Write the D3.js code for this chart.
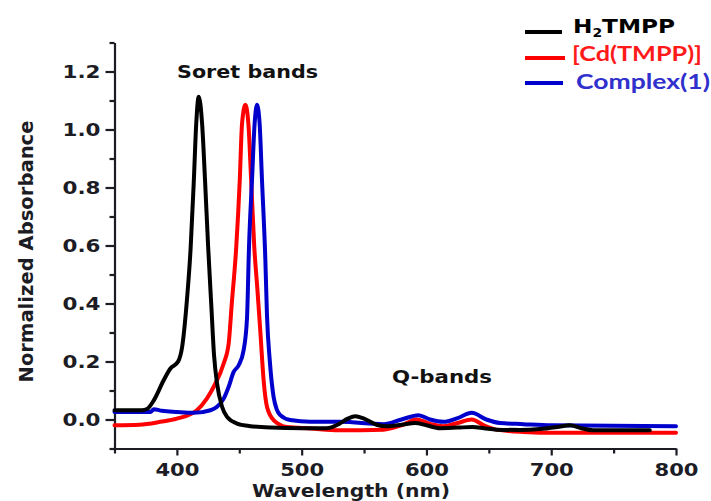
<!DOCTYPE html>
<html><head><meta charset="utf-8">
<script src="https://cdn.jsdelivr.net/npm/d3@7/dist/d3.min.js"></script>
<style>body{margin:0;background:#fff;}svg{display:block;}</style>
</head><body>
<script>
// ---- data ----
const seriesNames = ["H2TMPP", "[Cd(TMPP)]", "Complex(1)"];
const seriesColors = ["#000000", "#ff0000", "#0000cc"];

const h2tmppNm = [350,372,376,381.5,389.5,394.8,401,404.2,408,411,413.6,415.5,417.5,420.2,422.5,425,427.5,429.8,432.2,436.2,440.2,448.2,458.9,474.9,500,520,530,537,543,550,560,568,580,591,600,611,625,637,646,656,675,691,705,715,724,733.5,750,779];
const h2tmppAbs = [0.032,0.032,0.036,0.066,0.136,0.176,0.2,0.25,0.41,0.59,0.826,1.02,1.113,1.02,0.83,0.6,0.40,0.22,0.124,0.044,0.009,-0.014,-0.023,-0.028,-0.03,-0.03,-0.015,0.003,0.011,0.003,-0.018,-0.023,-0.018,-0.012,-0.02,-0.03,-0.028,-0.026,-0.03,-0.035,-0.036,-0.033,-0.026,-0.02,-0.03,-0.037,-0.037,-0.037];

const cdNm = [350,370,386.8,400,416,424,429.5,437.5,441.5,444,447.5,450.4,452.2,454.9,457.3,459.5,462,464.5,466.8,469.5,472.2,477.5,488.3,507,530,565.6,580,592.2,603,613.6,625,636.3,646,656,677.7,704.5,800];
const cdAbs = [-0.02,-0.018,-0.008,0.003,0.032,0.072,0.113,0.193,0.262,0.40,0.59,0.826,1.02,1.085,1.02,0.826,0.596,0.45,0.308,0.136,0.044,-0.002,-0.026,-0.031,-0.037,-0.035,-0.02,0.0,-0.015,-0.023,-0.012,0.0,-0.02,-0.035,-0.043,-0.046,-0.046];

const cpxNm = [350,378.8,381.5,388,400,413.5,426.9,432.2,437.5,441.5,445.5,449.5,453.5,456.2,457.8,460.2,462.3,464.2,466.3,468.2,470.9,472.2,474.5,477.5,480,482.9,490.9,507,531,565.6,580,593.6,603,613.6,625,636.3,648,659,677.7,700,800];
const cpxAbs = [0.026,0.026,0.035,0.03,0.026,0.023,0.032,0.044,0.072,0.113,0.164,0.187,0.239,0.35,0.596,0.826,1.02,1.085,1.02,0.826,0.55,0.36,0.2,0.078,0.035,0.015,-0.002,-0.008,-0.008,-0.016,0.0,0.015,0.0,-0.008,0.005,0.023,0.0,-0.012,-0.016,-0.02,-0.023];

const xMajorTicks = [400,500,600,700,800];
const xMinorTicks = [350,450,550,650,750];
const yMajorTicks = [0.0,0.2,0.4,0.6,0.8,1.0,1.2];
const yMinorTicks = [-0.1,0.1,0.3,0.5,0.7,0.9,1.1,1.3];
const xTitle = "Wavelength (nm)";
const yTitle = "Normalized Absorbance";
const annotations = ["Soret bands", "Q-bands"];

// ---- drawing ----
const W = 711, H = 501;
const svg = d3.select("body").append("svg").attr("width", W).attr("height", H);
const x = d3.scaleLinear().domain([350, 800]).range([114.5, 676]);
const y = d3.scaleLinear().domain([-0.1, 1.3]).range([448.5, 42.5]);
const axisColor = "#1c1c24";
const FONT = "'DejaVu Sans', Verdana, sans-serif";

// X axis
const gx = svg.append("g").attr("transform", `translate(0,${y(-0.1)})`);
gx.call(d3.axisBottom(x).tickValues(xMajorTicks).tickSizeInner(7).tickSizeOuter(0).tickPadding(6).tickFormat(d3.format("d")));
gx.append("g").call(d3.axisBottom(x).tickValues(xMinorTicks).tickSize(5).tickFormat("")).select(".domain").remove();
// Y axis
const gy = svg.append("g").attr("transform", `translate(${x(350)},0)`);
gy.call(d3.axisLeft(y).tickValues(yMajorTicks).tickSizeInner(9).tickSizeOuter(0).tickPadding(5).tickFormat(d3.format(".1f")));
gy.append("g").call(d3.axisLeft(y).tickValues(yMinorTicks).tickSize(5).tickFormat("")).select(".domain").remove();

svg.selectAll(".domain").attr("stroke", axisColor).attr("stroke-width", 2.2);
svg.selectAll(".tick line").attr("stroke", axisColor).attr("stroke-width", 2.2);
gx.selectAll(".tick text").attr("font-family", FONT).attr("font-weight", "bold").attr("font-size", 18)
  .attr("fill", axisColor).attr("textLength", 44).attr("lengthAdjust", "spacingAndGlyphs").attr("dy", "0.78em");
gy.selectAll(".tick text").attr("font-family", FONT).attr("font-weight", "bold").attr("font-size", 18)
  .attr("fill", axisColor).attr("textLength", 38).attr("lengthAdjust", "spacingAndGlyphs");

// Lines
const line = d3.line().x(d => x(d[0])).y(d => y(d[1])).curve(d3.curveMonotoneX);
const data = [
  {nm: cdNm, abs: cdAbs, c: seriesColors[1]},
  {nm: cpxNm, abs: cpxAbs, c: seriesColors[2]},
  {nm: h2tmppNm, abs: h2tmppAbs, c: seriesColors[0]}
];
data.forEach(s => {
  svg.append("path").datum(d3.zip(s.nm, s.abs)).attr("d", line)
    .attr("fill", "none").attr("stroke", s.c).attr("stroke-width", 4)
    .attr("stroke-linejoin", "round").attr("stroke-linecap", "round");
});

// Titles
svg.append("text").attr("x", 351).attr("y", 496.5).attr("text-anchor", "middle")
  .attr("font-family", FONT).attr("font-weight", "bold").attr("font-size", 18).attr("fill", axisColor)
  .attr("textLength", 198).attr("lengthAdjust", "spacingAndGlyphs").text(xTitle);
svg.append("text").attr("transform", "translate(33,251.5) rotate(-90)").attr("text-anchor", "middle")
  .attr("font-family", FONT).attr("font-weight", "bold").attr("font-size", 20).attr("fill", axisColor)
  .attr("textLength", 262).attr("lengthAdjust", "spacingAndGlyphs").text(yTitle);

// Annotations
svg.append("text").attr("x", 177).attr("y", 78).attr("font-family", FONT).attr("font-weight", "bold")
  .attr("font-size", 18).attr("fill", "#111").attr("textLength", 141).attr("lengthAdjust", "spacingAndGlyphs").text(annotations[0]);
svg.append("text").attr("x", 392).attr("y", 383).attr("font-family", FONT).attr("font-weight", "bold")
  .attr("font-size", 18).attr("fill", "#111").attr("textLength", 100).attr("lengthAdjust", "spacingAndGlyphs").text(annotations[1]);

// Legend
const legY = [32, 58, 83];
const legX2 = [562, 565, 563];
legY.forEach((ly, i) => {
  svg.append("line").attr("x1", 525).attr("x2", legX2[i]).attr("y1", ly).attr("y2", ly)
    .attr("stroke", seriesColors[i]).attr("stroke-width", 4);
});
// H2TMPP with subscript
const t0 = svg.append("text").attr("transform", "translate(573,33) scale(1.16,1)")
  .attr("font-family", FONT).attr("font-weight", "bold").attr("font-size", 20).attr("fill", "#000");
t0.append("tspan").text("H");
t0.append("tspan").attr("font-size", 12).attr("dy", 4).text("2");
t0.append("tspan").attr("dy", -4).text("TMPP");
svg.append("text").attr("x", 572).attr("y", 61).attr("font-family", "Lato, 'Open Sans', sans-serif").attr("font-weight", "bold")
  .attr("font-size", 21).attr("fill", "#ff1a1a").attr("textLength", 130).attr("lengthAdjust", "spacingAndGlyphs").text(seriesNames[1]);
svg.append("text").attr("x", 576).attr("y", 88.5).attr("font-family", "Lato, 'Open Sans', sans-serif").attr("font-weight", "bold")
  .attr("font-size", 21).attr("fill", "#3030cc").attr("textLength", 134).attr("lengthAdjust", "spacingAndGlyphs").text(seriesNames[2]);
</script>
</body></html>
